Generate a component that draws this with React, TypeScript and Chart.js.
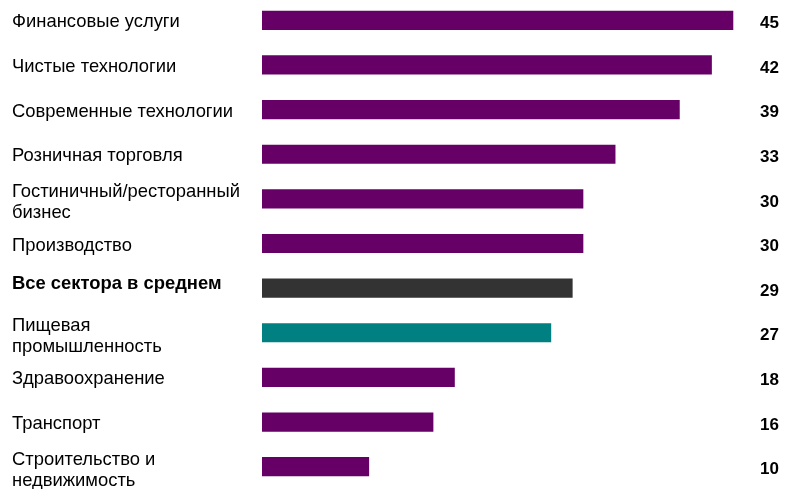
import React, { useEffect, useRef } from "react";
import { Chart, registerables } from "chart.js";

Chart.register(...registerables);

const categories: string[][] = [
  ["Финансовые услуги"],
  ["Чистые технологии"],
  ["Современные технологии"],
  ["Розничная торговля"],
  ["Гостиничный/ресторанный", "бизнес"],
  ["Производство"],
  ["Все сектора в среднем"],
  ["Пищевая", "промышленность"],
  ["Здравоохранение"],
  ["Транспорт"],
  ["Строительство и", "недвижимость"],
];
// bar lengths as drawn in the picture
const values: number[] = [44, 42, 39, 33, 30, 30, 29, 27, 18, 16, 10];
// numbers printed at the right
const valueLabels: string[] = ["45", "42", "39", "33", "30", "30", "29", "27", "18", "16", "10"];
const boldIndex = 6;
const PURPLE = "#660066";
const DARK = "#333333";
const TEAL = "#008080";
const barColors: string[] = [
  PURPLE, PURPLE, PURPLE, PURPLE, PURPLE, PURPLE, DARK, TEAL, PURPLE, PURPLE, PURPLE,
];

const FONT = "'Liberation Sans', Arial, sans-serif";

const textPlugin = {
  id: "sideText",
  afterDatasetsDraw(chart: any) {
    const ctx = chart.ctx;
    const meta = chart.getDatasetMeta(0);
    ctx.save();
    ctx.textBaseline = "middle";
    meta.data.forEach((bar: any, i: number) => {
      const cy = bar.y;
      const lines = categories[i];
      ctx.fillStyle = "#000000";
      ctx.textAlign = "left";
      ctx.font = (i === boldIndex ? "bold " : "") + "18.4px " + FONT;
      if (lines.length === 1) {
        ctx.fillText(lines[0], 12, cy + (i === boldIndex ? -4 : 2));
      } else {
        lines.forEach((ln: string, k: number) => {
          ctx.fillText(ln, 12, cy - 7 + k * 21);
        });
      }
      ctx.font = "bold 17px " + FONT;
      ctx.textAlign = "right";
      ctx.fillText(valueLabels[i], 779, cy + 3);
    });
    ctx.restore();
  },
};

export default function App() {
  const ref = useRef<HTMLCanvasElement | null>(null);
  useEffect(() => {
    if (!ref.current) return;
    const chart = new Chart(ref.current, {
      type: "bar",
      data: {
        labels: categories.map((c) => c.join(" ")),
        datasets: [
          {
            data: values,
            backgroundColor: barColors,
            borderWidth: 0,
            barPercentage: 0.43,
            categoryPercentage: 1,
          },
        ],
      },
      options: {
        indexAxis: "y",
        animation: false,
        responsive: true,
        maintainAspectRatio: false,
        layout: { padding: { left: 262, right: 51, top: 0, bottom: 0 } },
        plugins: {
          legend: { display: false },
          tooltip: { enabled: false },
        },
        scales: {
          x: { display: false, min: 0, max: 45 },
          y: { display: false, offset: true },
        },
      },
      plugins: [textPlugin],
    });
    return () => chart.destroy();
  }, []);
  return (
    <div
      style={{
        position: "absolute",
        left: 0,
        top: -2,
        width: 795,
        height: 491,
        background: "#ffffff",
      }}
    >
      <canvas ref={ref} />
    </div>
  );
}
